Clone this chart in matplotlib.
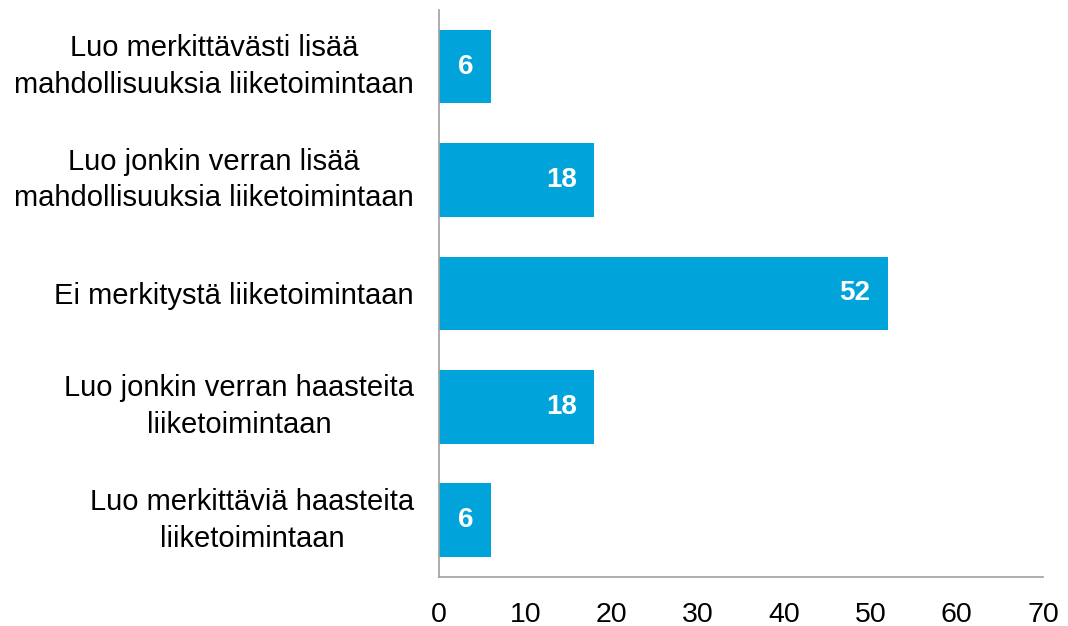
import matplotlib.pyplot as plt

plt.rcParams['font.family'] = ['Liberation Sans', 'DejaVu Sans']

categories = [
    "Luo merkittävästi lisää\nmahdollisuuksia liiketoimintaan",
    "Luo jonkin verran lisää\nmahdollisuuksia liiketoimintaan",
    "Ei merkitystä liiketoimintaan",
    "Luo jonkin verran haasteita\nliiketoimintaan",
    "Luo merkittäviä haasteita\nliiketoimintaan",
]
values = [6, 18, 52, 18, 6]
xticks = [0, 10, 20, 30, 40, 50, 60, 70]

fig = plt.figure(figsize=(10.68, 6.26), dpi=100)
ax = fig.add_axes([0.411, 0.0783, 0.5655, 0.906])

pos = list(range(len(categories)))[::-1]
ax.barh(pos, values, height=0.65, color='#00A3DA')

for p, v in zip(pos, values):
    ax.annotate(str(v), (v, p), xytext=(-17, 0), textcoords='offset pixels',
                ha='right', va='center', color='white', fontsize=20, fontweight='bold')

ax.set_xlim(0, 70)
ax.set_ylim(-0.5, 4.5)
ax.set_xticks(xticks)
ax.set_yticks(pos)
ax.set_yticklabels(categories, fontsize=21, multialignment='center', linespacing=1.4)
for lbl in ax.get_yticklabels():
    if '\n' in lbl.get_text():
        lbl.set_verticalalignment('center')
ax.tick_params(axis='x', labelsize=20.5, length=0, pad=18)
ax.tick_params(axis='y', length=0, pad=18)

for s in ['top', 'right']:
    ax.spines[s].set_visible(False)
for s in ['left', 'bottom']:
    ax.spines[s].set_color('#A0A0A0')
    ax.spines[s].set_linewidth(1.2)

plt.savefig("out.png")
